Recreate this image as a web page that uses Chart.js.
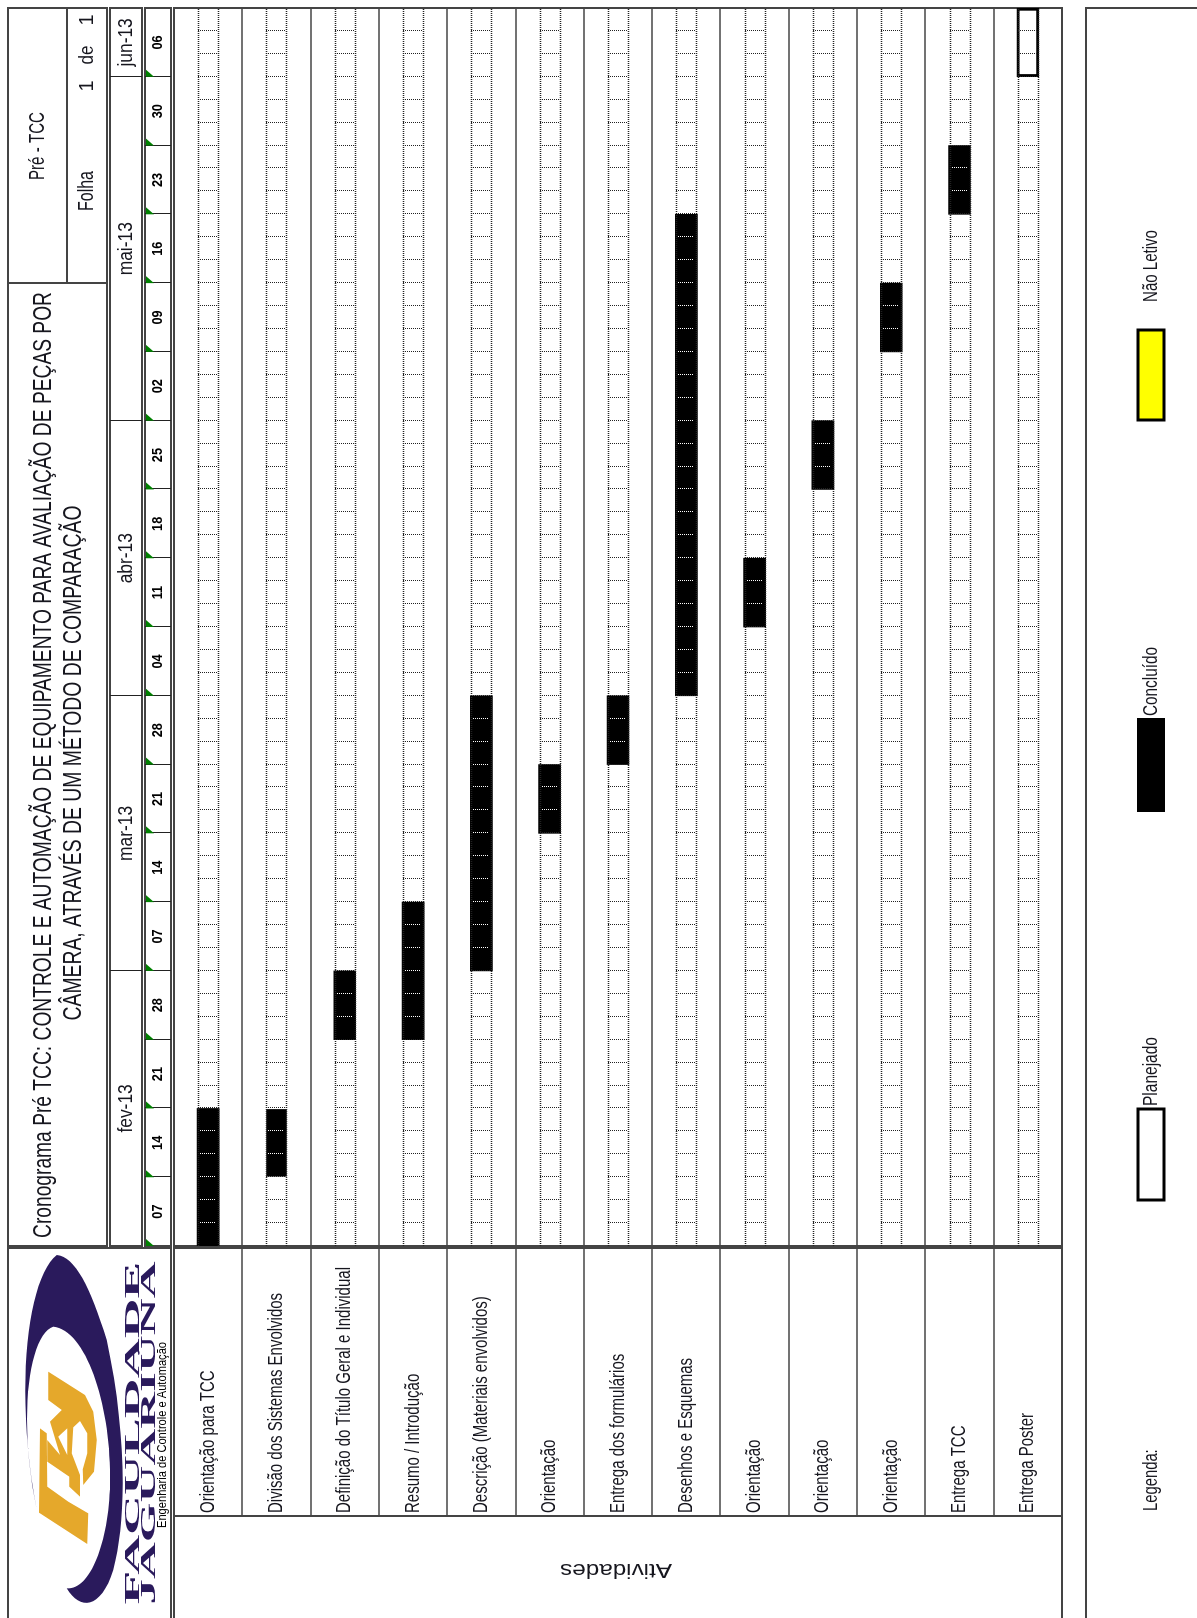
<!DOCTYPE html>
<html lang="pt-BR">
<head>
<meta charset="utf-8">
<title>Cronograma Pré TCC</title>
<script src="https://cdn.jsdelivr.net/npm/chart.js@4/dist/chart.umd.min.js"></script>
<style>
    html, body { margin: 0; padding: 0; background: #fff; width: 1197px; height: 1618px; overflow: hidden; }
    /* a folha original é paisagem: o canvas é desenhado deitado e girado para a página */
    #cronograma { position: absolute; left: 0; top: 0; transform-origin: 0 0; transform: translate(0, 1618px) rotate(-90deg); }
</style>
</head>
<body>
<canvas id="cronograma" width="1618" height="1197"></canvas>
<script>
// Atividades e períodos, em semanas contadas a partir de 07/fev
const atividades = [
    'Orientação para TCC',
    'Divisão dos Sistemas Envolvidos',
    'Definição do Título Geral e Individual',
    'Resumo / Introdução',
    'Descrição (Materiais envolvidos)',
    'Orientação',
    'Entrega dos formulários',
    'Desenhos e Esquemas',
    'Orientação',
    'Orientação',
    'Orientação',
    'Entrega TCC',
    'Entrega Poster'
];
const inicioConcluido = [0, 1, 3, 3, 4, 6, 7, 8, 9, 11, 13, 15, null];
const fimConcluido = [2, 2, 4, 5, 8, 7, 8, 15, 10, 12, 14, 16, null];
const inicioPlanejado = [null, null, null, null, null, null, null, null, null, null, null, null, 17];
const fimPlanejado = [null, null, null, null, null, null, null, null, null, null, null, null, 18];

const semanas = ['07', '14', '21', '28', '07', '14', '21', '28', '04', '11', '18', '25', '02', '09', '16', '23', '30', '06'];
const meses = ['fev-13', 'mar-13', 'abr-13', 'mai-13', 'jun-13'];
const mesInicio = [0, 4, 8, 12, 17];
const mesFim = [4, 8, 12, 17, 18];
const subdivisoesPorSemana = 3;

const tituloLinha1 = 'Cronograma Pré TCC: CONTROLE E AUTOMAÇÃO DE EQUIPAMENTO PARA AVALIAÇÃO DE PEÇAS POR';
const tituloLinha2 = 'CÂMERA, ATRAVÉS DE UM MÉTODO DE COMPARAÇÃO';

const LINHA = '#444';
const TEXTO = '#16161e';
const ROXO = '#2a1a5c';
const OURO = '#e5a82b';

// Converte coordenadas da página (em pé) para as do canvas (deitado)
function P(x, y) { return [1618 - y, x]; }

function texto(ctx, s, x, y, fonte, ops) {
    const o = ops || {};
    ctx.save();
    ctx.font = fonte;
    ctx.fillStyle = o.cor || TEXTO;
    ctx.textBaseline = 'middle';
    ctx.textAlign = o.alinhar || 'center';
    const sx = o.largura ? o.largura / ctx.measureText(s).width : (o.sx || 1);
    ctx.translate(x, y);
    if (o.girar) ctx.rotate(o.girar);
    ctx.scale(sx, 1);
    ctx.fillText(s, 0, 0);
    ctx.restore();
}

function caixaPagina(ctx, x0, y0, x1, y1) {
    const a = P(x0, y0), b = P(x1, y1);
    ctx.strokeRect(Math.min(a[0], b[0]), Math.min(a[1], b[1]), Math.abs(a[0] - b[0]), Math.abs(a[1] - b[1]));
}

function linhaPagina(ctx, x0, y0, x1, y1) {
    const a = P(x0, y0), b = P(x1, y1);
    ctx.beginPath();
    ctx.moveTo(a[0], a[1]);
    ctx.lineTo(b[0], b[1]);
    ctx.stroke();
}

// Logotipo, traçado a partir do recorte da página
function desenharLogo(ctx) {
    const c = (x, y) => P(x / 3, 1200 + y / 3);
    const curva = (a, b, d) => ctx.bezierCurveTo(...c(a[0], a[1]), ...c(b[0], b[1]), ...c(d[0], d[1]));
    ctx.fillStyle = ROXO;
    ctx.beginPath();
    ctx.moveTo(...c(170, 165));
    curva([85, 230], [40, 560], [110, 930]);
    curva([50, 640], [90, 400], [160, 380]);
    curva([260, 390], [335, 620], [330, 850]);
    curva([325, 1030], [270, 1170], [200, 1165]);
    curva([240, 1230], [300, 1230], [340, 1110]);
    curva([380, 960], [380, 700], [320, 420]);
    curva([270, 260], [225, 170], [170, 165]);
    ctx.fill();

    const g = (x, y) => P(30 + x / 3, 1340 + y / 3);
    const poligono = (pts, cor) => {
        ctx.fillStyle = cor;
        ctx.beginPath();
        pts.forEach((p, i) => { if (i) ctx.lineTo(...g(p[0], p[1])); else ctx.moveTo(...g(p[0], p[1])); });
        ctx.closePath();
        ctx.fill();
    };
    poligono([[55, 95], [165, 165], [190, 215], [200, 300], [192, 395], [160, 435], [158, 388], [172, 340], [172, 280], [150, 243], [130, 262], [125, 340], [150, 405], [150, 470], [118, 440], [118, 410], [52, 365], [52, 300], [90, 345], [60, 245], [95, 210], [55, 180]], OURO);
    poligono([[30, 265], [50, 280], [52, 440], [115, 485], [175, 520], [172, 612], [27, 518]], OURO);
    poligono([[85, 290], [112, 265], [112, 345]], '#fff');

    texto(ctx, 'FACULDADE', ...P(134, 1433), 'bold 20px "Liberation Serif"', { largura: 343, cor: ROXO });
    texto(ctx, 'JAGUARIÚNA', ...P(150, 1433), 'bold 20px "Liberation Serif"', { largura: 343, cor: ROXO });
    texto(ctx, 'Engenharia de Controle e Automação', ...P(163, 1528), '12px "Liberation Sans"', { largura: 186, cor: '#000', alinhar: 'left' });
}

// Quadros, cabeçalho, rótulos e legenda: ficam por baixo das barras
const quadrosPlugin = {
    id: 'quadros',
    beforeDatasetsDraw(chart) {
        const ctx = chart.ctx, x = chart.scales.x, y = chart.scales.y, area = chart.chartArea;
        const passoLinha = (area.bottom - area.top) / atividades.length;
        const fonte = '20px "Liberation Sans"';

        ctx.save();
        ctx.strokeStyle = LINHA;
        ctx.lineWidth = 2;
        caixaPagina(ctx, 8, 8, 107, 1246);
        linhaPagina(ctx, 8, 283, 107, 283);
        linhaPagina(ctx, 67, 8, 67, 283);
        caixaPagina(ctx, 110, 8, 142, 1246);
        caixaPagina(ctx, 145, 8, 171, 1246);
        caixaPagina(ctx, 174, 8, 1062, 1246);
        caixaPagina(ctx, 8, 1248, 171, 1700);
        caixaPagina(ctx, 174, 1248, 1062, 1700);
        caixaPagina(ctx, 1086, 8, 1400, 1700);
        linhaPagina(ctx, 174, 1516, 1062, 1516);

        // Separadores das atividades
        ctx.lineWidth = 1.5;
        for (let i = 1; i < atividades.length; i++) {
            const py = Math.round(area.top + i * passoLinha);
            ctx.beginPath();
            ctx.moveTo(1618 - 1516, py);
            ctx.lineTo(area.right, py);
            ctx.stroke();
        }

        // Meses
        ctx.lineWidth = 1;
        ctx.strokeStyle = '#222';
        meses.forEach((m, i) => {
            const a = x.getPixelForValue(mesInicio[i]), b = x.getPixelForValue(mesFim[i]);
            if (i) {
                ctx.beginPath();
                ctx.moveTo(Math.round(a) + 0.5, 110);
                ctx.lineTo(Math.round(a) + 0.5, 142);
                ctx.stroke();
            }
            texto(ctx, m, (a + b) / 2, 126, fonte, { sx: 0.87 });
        });

        // Semanas, com a marca verde no canto de cada célula
        semanas.forEach((s, i) => {
            const a = x.getPixelForValue(i), b = x.getPixelForValue(i + 1);
            if (i) {
                ctx.beginPath();
                ctx.moveTo(Math.round(a) + 0.5, 145);
                ctx.lineTo(Math.round(a) + 0.5, 171);
                ctx.stroke();
            }
            ctx.fillStyle = '#008000';
            ctx.beginPath();
            ctx.moveTo(a, 146);
            ctx.lineTo(a + 7, 146);
            ctx.lineTo(a, 154);
            ctx.closePath();
            ctx.fill();
            texto(ctx, s, (a + b) / 2, 158, 'bold 15px "Liberation Sans"', { sx: 0.85, cor: '#000' });
        });

        // Cabeçalho
        texto(ctx, tituloLinha1, ...P(44, 765), '26px "Liberation Sans"', { largura: 946 });
        texto(ctx, tituloLinha2, ...P(74, 763), '26px "Liberation Sans"', { largura: 515 });
        texto(ctx, 'Pré - TCC', ...P(38, 146), '22px "Liberation Sans"', { largura: 68 });
        texto(ctx, 'Folha', ...P(87, 191), '22px "Liberation Sans"', { largura: 40 });
        texto(ctx, '1', ...P(87, 86), fonte);
        texto(ctx, 'de', ...P(87, 55), fonte, { largura: 19 });
        texto(ctx, '1', ...P(87, 20), fonte);

        // Rótulos das atividades
        atividades.forEach((a, i) => {
            texto(ctx, a, 105, y.getPixelForValue(i), fonte, { sx: 0.75, alinhar: 'left' });
        });
        texto(ctx, 'Atividades', ...P(616, 1570), '21px "Liberation Sans"', { largura: 112, girar: -Math.PI / 2 });

        desenharLogo(ctx);

        // Legenda
        texto(ctx, 'Legenda:', ...P(1151, 1511), fonte, { sx: 0.74, alinhar: 'left' });
        texto(ctx, 'Planejado', ...P(1151, 1106), fonte, { largura: 69, alinhar: 'left' });
        texto(ctx, 'Concluído', ...P(1151, 716), fonte, { largura: 69, alinhar: 'left' });
        texto(ctx, 'Não Letivo', ...P(1151, 302), fonte, { largura: 72, alinhar: 'left' });
        ctx.strokeStyle = '#000';
        ctx.lineWidth = 3;
        caixaPagina(ctx, 1138, 1109, 1164, 1200);
        ctx.fillStyle = '#000';
        const cb = P(1137, 812);
        ctx.fillRect(cb[0], cb[1], 94, 28);
        const nl = P(1138, 420);
        ctx.fillStyle = '#ffff00';
        ctx.fillRect(nl[0], nl[1], 90, 26);
        caixaPagina(ctx, 1138, 330, 1164, 420);
        ctx.restore();
    },

    // Quadriculado pontilhado por cima das barras: branco onde cai sobre uma barra
    afterDatasetsDraw(chart) {
        const ctx = chart.ctx, x = chart.scales.x, y = chart.scales.y;
        const meia = 10;
        ctx.save();
        ctx.setLineDash([1, 1]);
        atividades.forEach((a, i) => {
            const c = Math.round(y.getPixelForValue(i));
            ctx.strokeStyle = '#222';
            ctx.lineWidth = 1.5;
            [c - meia, c + meia].forEach(py => {
                ctx.beginPath();
                ctx.moveTo(x.left, py + 0.5);
                ctx.lineTo(x.right, py + 0.5);
                ctx.stroke();
            });
            ctx.lineWidth = 1;
            for (let k = 1; k < semanas.length * subdivisoesPorSemana; k++) {
                const v = k / subdivisoesPorSemana;
                const sobreBarra = inicioConcluido[i] !== null && v > inicioConcluido[i] && v < fimConcluido[i];
                const px = Math.round(x.getPixelForValue(v)) + 0.5;
                const borda = sobreBarra ? meia - 2 : meia;
                ctx.strokeStyle = sobreBarra ? '#fff' : '#222';
                ctx.beginPath();
                ctx.moveTo(px, c - borda);
                ctx.lineTo(px, c + borda);
                ctx.stroke();
            }
        });
        ctx.restore();
    }
};

new Chart(document.getElementById('cronograma'), {
    type: 'bar',
    data: {
        labels: atividades,
        datasets: [
            {
                label: 'Concluído',
                data: atividades.map((a, i) => inicioConcluido[i] === null ? null : [inicioConcluido[i], fimConcluido[i]]),
                backgroundColor: '#000',
                // a segunda atividade aparece um pouco mais estreita
                borderColor: '#fff',
                borderWidth: ctx => ctx.dataIndex === 1 ? 1 : 0,
                borderSkipped: false,
                barThickness: 22,
                grouped: false
            },
            {
                label: 'Planejado',
                data: atividades.map((a, i) => inicioPlanejado[i] === null ? null : [inicioPlanejado[i], fimPlanejado[i]]),
                backgroundColor: '#fff',
                borderColor: '#000',
                borderWidth: 3,
                borderSkipped: false,
                barThickness: 22,
                grouped: false
            }
        ]
    },
    options: {
        indexAxis: 'y',
        responsive: false,
        animation: false,
        devicePixelRatio: 1,
        layout: { padding: { left: 372, right: 8, top: 174, bottom: 135 } },
        plugins: { legend: { display: false }, tooltip: { enabled: false } },
        scales: {
            x: { type: 'linear', min: 0, max: semanas.length, display: false },
            y: { type: 'category', display: false }
        }
    },
    plugins: [quadrosPlugin]
});
</script>
</body>
</html>
